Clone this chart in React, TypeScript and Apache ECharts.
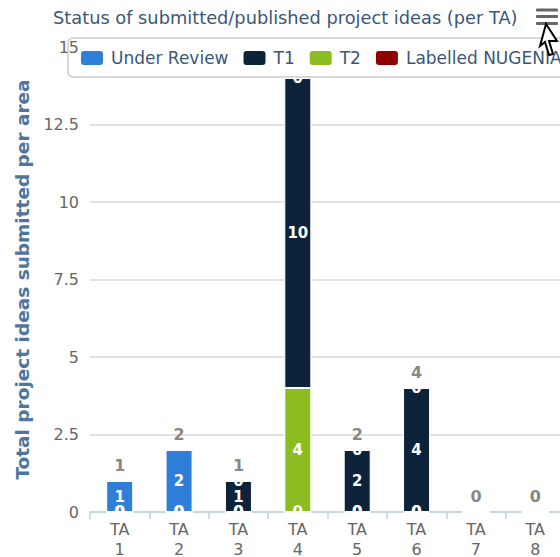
import React, { useEffect, useRef } from "react";
import * as echarts from "echarts";

const categories = ["TA 1", "TA 2", "TA 3", "TA 4", "TA 5", "TA 6", "TA 7", "TA 8"];
const underReview = [1, 2, 0, 0, 0, 0, 0, 0];
const t1 = [0, 0, 1, 10, 2, 4, 0, 0];
const t2 = [0, 0, 0, 4, 0, 0, 0, 0];
const labelledNugenia = [0, 0, 0, 0, 0, 0, 0, 0];
const totals = [1, 2, 1, 14, 2, 4, 0, 0];
const yTicks = { min: 0, max: 15, interval: 2.5 };

const FONT = "DejaVu Sans";

export default function App() {
  const ref = useRef<HTMLDivElement>(null);
  useEffect(() => {
    document.body.style.margin = "0";
    const chart = echarts.init(ref.current!, null, { renderer: "svg" });
    const inner = {
      show: true,
      position: "inside",
      color: "#ffffff",
      fontFamily: FONT,
      fontWeight: "bold",
      fontSize: 15,
    };
    const mk = (name: string, data: number[], color: string) => ({
      name,
      type: "bar",
      stack: "total",
      data,
      barWidth: 27,
      itemStyle: { color, borderColor: "#ffffff", borderWidth: 1 },
      label: inner,
      z: 2,
    });
    const gridColor = "#d8d8d8";
    chart.setOption({
      animation: false,
      textStyle: { fontFamily: FONT },
      title: {
        text: "Status of submitted/published project ideas (per TA)",
        left: 53,
        top: 8,
        padding: 0,
        textStyle: { fontFamily: FONT, fontSize: 17.8, fontWeight: "normal", color: "#3a5777" },
      },
      legend: {
        data: ["Under Review", "T1", "T2", "Labelled NUGENIA"],
        left: 68,
        top: 38,
        width: 800,
        padding: [11, 10, 10, 11],
        itemWidth: 24,
        itemHeight: 16,
        itemGap: 13,
        icon: "roundRect",
        backgroundColor: "#ffffff",
        borderColor: "#cccccc",
        borderWidth: 1.5,
        borderRadius: 5,
        z: 4,
        textStyle: { fontFamily: FONT, fontSize: 17, color: "#3a5777", padding: [0, 0, 0, 2] },
      },
      grid: { left: 90, top: 47, width: 475, height: 465, outerBoundsMode: "none", containLabel: false },
      xAxis: {
        type: "category",
        data: categories,
        axisLine: { lineStyle: { color: "#c0d0e0", width: 1.5 } },
        axisTick: { show: true, length: 7, lineStyle: { color: "#c0d0e0", width: 1.5 } },
        axisLabel: {
          color: "#666666",
          fontFamily: FONT,
          fontSize: 16,
          lineHeight: 20,
          margin: 7,
          interval: 0,
          formatter: (v: string) => v.replace(" ", "\n"),
        },
      },
      yAxis: [
        {
          type: "value",
          ...yTicks,
          name: "Total project ideas submitted per area",
          nameLocation: "middle",
          nameGap: 58,
          nameRotate: 90,
          nameTextStyle: { fontFamily: FONT, fontSize: 18.5, fontWeight: "bold", color: "#4d759e" },
          axisLabel: { show: false },
          axisLine: { show: false },
          axisTick: { show: false },
          splitLine: {
            lineStyle: {
              width: 1.5,
              color: [gridColor, gridColor, gridColor, gridColor, gridColor, gridColor, "rgba(0,0,0,0)"],
            },
          },
          z: 0,
        },
        {
          type: "value",
          ...yTicks,
          position: "left",
          axisLine: { show: false },
          axisTick: { show: false },
          splitLine: { show: false },
          axisLabel: { color: "#666666", fontFamily: FONT, fontSize: 16, margin: 11, padding: [7, 0, 0, 0] },
          z: 10,
        },
      ],
      series: [
        mk("Labelled NUGENIA", labelledNugenia, "#910000"),
        mk("T2", t2, "#8bbc21"),
        mk("T1", t1, "#0d233a"),
        mk("Under Review", underReview, "#2f7ed8"),
        {
          name: "Total",
          type: "scatter",
          data: totals,
          symbolSize: 0,
          silent: true,
          z: 3,
          label: {
            show: true,
            position: "top",
            distance: 8,
            color: "#666666",
            fontFamily: FONT,
            fontWeight: "bold",
            fontSize: 16,
          },
        },
      ],
      graphic: [
        { type: "rect", shape: { x: 536, y: 8.5, width: 22, height: 3, r: 1 }, style: { fill: "#666666" }, z: 20 },
        { type: "rect", shape: { x: 536, y: 15, width: 22, height: 3, r: 1 }, style: { fill: "#666666" }, z: 20 },
        { type: "rect", shape: { x: 536, y: 22, width: 22, height: 3, r: 1 }, style: { fill: "#666666" }, z: 20 },
        {
          type: "polygon",
          shape: {
            points: [
              [546, 24],
              [540, 46],
              [545, 42],
              [549, 55],
              [553, 54],
              [549, 41],
              [557, 41],
            ],
          },
          style: { fill: "#ffffff", stroke: "#000000", lineWidth: 2 },
          z: 21,
        },
      ],
    });
    return () => chart.dispose();
  }, []);
  return <div ref={ref} style={{ position: "absolute", left: 0, top: 0, width: 560, height: 557 }} />;
}
